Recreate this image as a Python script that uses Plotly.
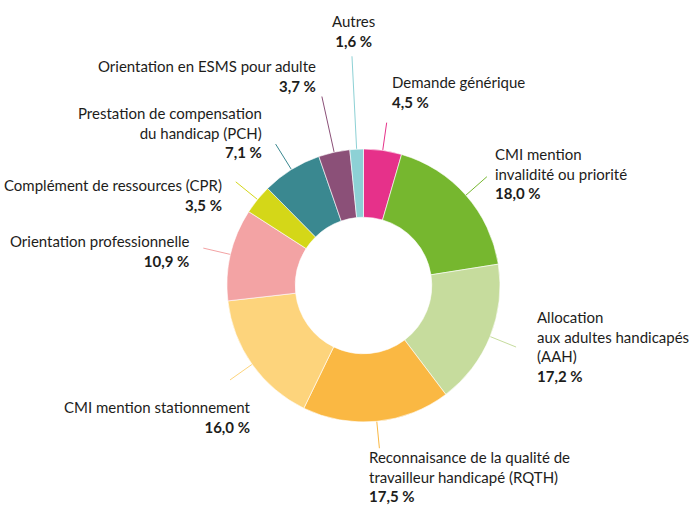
import numpy as np
import plotly.graph_objects as go

# ---- data ----
labels = [
    "Demande générique",
    "CMI mention<br>invalidité ou priorité",
    "Allocation<br>aux adultes handicapés<br>(AAH)",
    "Reconnaisance de la qualité de<br>travailleur handicapé (RQTH)",
    "CMI mention stationnement",
    "Orientation professionnelle",
    "Complément de ressources (CPR)",
    "Prestation de compensation<br>du handicap (PCH)",
    "Orientation en ESMS pour adulte",
    "Autres",
]
values = [4.5, 18.0, 17.2, 17.5, 16.0, 10.9, 3.5, 7.1, 3.7, 1.6]
colors = ["#E6318A", "#76B72F", "#C6DC9D", "#FAB843", "#FDD47C",
          "#F3A3A4", "#D4D718", "#3A8890", "#8B5078", "#8DD1D5"]

# ---- layout constants (pixels) ----
W, H = 690, 505
CX, CY, R = 363.5, 285.5, 136.5
line_len = [28, 28, 28, 27, 27, 28, 28, 30, 57, 93]
# label anchor positions (x, y-center of block, anchor)
label_pos = [
    (390, 92, "left"),
    (493, 173, "left"),
    (535, 346, "left"),
    (367, 476, "left"),
    (253, 417, "right"),
    (191, 251, "right"),
    (224, 194.5, "right"),
    (264, 132, "right"),
    (318, 76, "right"),
    (353, 31, "center"),
]

FONT = "Lato"
TXT = "#1d1d1b"

fig = go.Figure()
fig.add_trace(go.Pie(
    values=values, labels=[l.replace("<br>", " ") for l in labels],
    marker=dict(colors=colors, line=dict(color="white", width=0.6)),
    hole=0.5, sort=False, direction="clockwise", rotation=0,
    textinfo="none", hoverinfo="skip", showlegend=False,
    domain=dict(x=[(CX - R) / W, (CX + R) / W], y=[1 - (CY + R) / H, 1 - (CY - R) / H]),
))

total = float(np.sum(values))
cum = np.cumsum([0] + values[:-1])
for i, v in enumerate(values):
    mid = (cum[i] + v / 2) / total * 2 * np.pi
    x0 = CX + R * np.sin(mid)
    y0 = CY - R * np.cos(mid)
    x1 = CX + (R + line_len[i]) * np.sin(mid)
    y1 = CY - (R + line_len[i]) * np.cos(mid)
    fig.add_trace(go.Scatter(x=[x0, x1], y=[y0, y1], mode="lines",
                             line=dict(color=colors[i], width=1),
                             hoverinfo="skip", showlegend=False))
    pct = f"{v:.1f}".replace(".", ",") + " %"
    lx, ly, al = label_pos[i]
    fig.add_annotation(x=lx, y=ly, xref="x", yref="y",
                       text=f"{labels[i]}<br><b>{pct}</b>",
                       showarrow=False, xanchor=al, yanchor="middle", align=al,
                       font=dict(family=FONT, size=15, color=TXT))

fig.update_xaxes(range=[0, W], visible=False, fixedrange=True)
fig.update_yaxes(range=[H, 0], visible=False, fixedrange=True)
fig.update_layout(width=W, height=H, margin=dict(l=0, r=0, t=0, b=0),
                  paper_bgcolor="white", plot_bgcolor="rgba(0,0,0,0)")
fig.write_html("out.html", config={"displayModeBar": False},
               post_script="document.body.style.margin='0';document.body.style.overflow='hidden';")
